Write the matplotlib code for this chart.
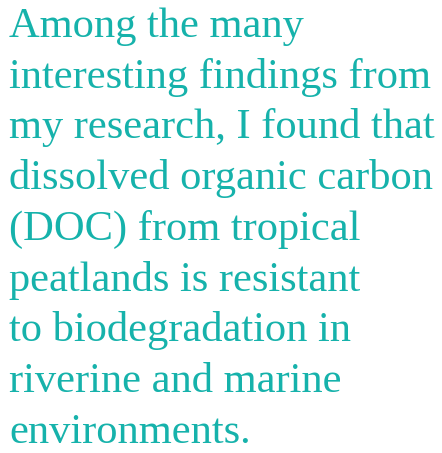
import matplotlib.pyplot as plt

# quote text, one entry per line as set in the reference
quote_lines = ["Among the many",
               "interesting findings from",
               "my research, I found that",
               "dissolved organic carbon",
               "(DOC) from tropical",
               "peatlands is resistant",
               "to biodegradation in",
               "riverine and marine",
               "environments."]

text_color = '#16b2ab'
width, height, dpi = 442, 453, 100

fig = plt.figure(figsize=(width / dpi, height / dpi), dpi=dpi)
fig.patch.set_facecolor('white')

left_px = 9
first_baseline_px = 37
line_step_px = 50.7

for i, line in enumerate(quote_lines):
    y_px = first_baseline_px + i * line_step_px
    fig.text(left_px / width, 1 - y_px / height, line,
             family='Liberation Serif', fontsize=30.6, color=text_color,
             ha='left', va='baseline')

fig.savefig('out.png', dpi=dpi, facecolor='white')
